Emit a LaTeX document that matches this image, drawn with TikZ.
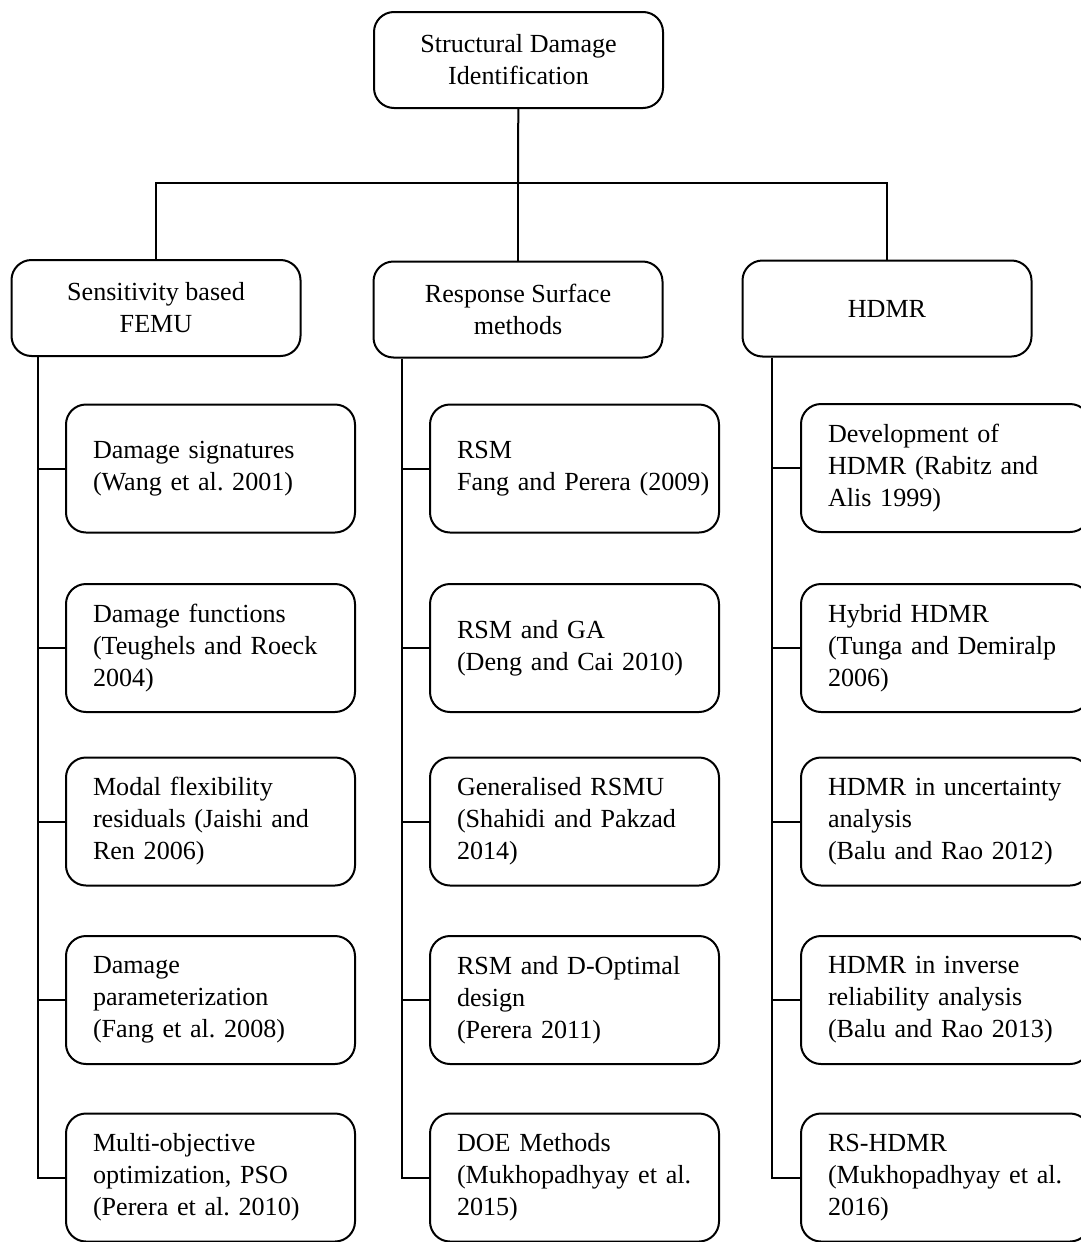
\documentclass[tikz,border=0pt]{standalone}
\usepackage{fontspec}
\setmainfont{Liberation Serif}
\usepackage{tikz}
\usetikzlibrary{positioning}

\begin{document}
\begin{tikzpicture}[x=1pt, y=-1pt,
          every node/.style={font=\fontsize{26.1}{32}\selectfont},
          headbox/.style={draw, line width=2pt, rounded corners=20pt, minimum width=289pt, minimum height=96pt, align=center, inner sep=0pt},
          leafbox/.style={draw, line width=2pt, rounded corners=20pt, text width=263pt, inner xsep=13pt, minimum height=128pt, align=left,
              execute at begin node={\frenchspacing\hyphenpenalty=10000\leftskip=14pt}},
          link/.style={line width=2pt}
      ]
        \useasboundingbox (0,0) rectangle (1080,1242);
        % top level
        \node[headbox] (sdi) at (518.5,60) {Structural Damage\\Identification};
        \node[headbox] (femu) at (156,308) {Sensitivity based\\FEMU};
        \node[headbox] (rsm) at (518,309.5) {Response Surface\\methods};
        \node[headbox] (hdmr) at (887,308.5) {HDMR};
        \coordinate (bus) at (518,183);
        \draw[link] (sdi) -- (bus);
        \draw[link] (femu.north) |- (bus) -| (hdmr.north);
        \draw[link] (bus) -- (rsm.north);

        % sensitivity based FEMU
        \node[leafbox] (f1) at (210.5,468.5) {Damage signatures\\(Wang et al. 2001)};
        \node[leafbox] (f2) at (210.5,648) {Damage functions\\(Teughels and Roeck\\2004)};
        \node[leafbox] (f3) at (210.5,821.5) {Modal flexibility\\residuals (Jaishi and\\Ren 2006)};
        \node[leafbox] (f4) at (210.5,1000) {Damage\\parameterization\\(Fang et al. 2008)};
        \node[leafbox] (f5) at (210.5,1177.5) {Multi-objective\\optimization, PSO\\(Perera et al. 2010)};

        % response surface methods
        \node[leafbox] (r1) at (574.5,468.5) {RSM\\\mbox{Fang and Perera (2009)}};
        \node[leafbox] (r2) at (574.5,648) {RSM and GA\\(Deng and Cai 2010)};
        \node[leafbox] (r3) at (574.5,821.5) {Generalised RSMU\\(Shahidi and Pakzad\\2014)};
        \node[leafbox] (r4) at (574.5,1000) {RSM and D-Optimal\\design\\(Perera 2011)};
        \node[leafbox] (r5) at (574.5,1177.5) {DOE Methods\\(Mukhopadhyay et al.\\2015)};

        % HDMR
        \node[leafbox] (h1) at (945.5,468) {Development of\\HDMR (Rabitz and\\Alis 1999)};
        \node[leafbox] (h2) at (945.5,648) {Hybrid HDMR\\(Tunga and Demiralp\\2006)};
        \node[leafbox] (h3) at (945.5,821.5) {HDMR in uncertainty\\analysis\\(Balu and Rao 2012)};
        \node[leafbox] (h4) at (945.5,1000) {HDMR in inverse\\reliability analysis\\(Balu and Rao 2013)};
        \node[leafbox] (h5) at (945.5,1177.5) {RS-HDMR\\(Mukhopadhyay et al.\\2016)};

        % trunks and branches
        \coordinate (ftrunk) at ([xshift=-118pt]femu.south);
        \coordinate (rtrunk) at ([xshift=-116pt]rsm.south);
        \coordinate (htrunk) at ([xshift=-115pt]hdmr.south);
        \draw[link] (ftrunk) |- (f5.west);
        \draw[link] (rtrunk) |- (r5.west);
        \draw[link] (htrunk) |- (h5.west);
        \foreach \i in {1,...,4} {
          \draw[link] (f\i.west) -- (f\i.west -| ftrunk);
          \draw[link] (r\i.west) -- (r\i.west -| rtrunk);
          \draw[link] (h\i.west) -- (h\i.west -| htrunk);
        }
      \end{tikzpicture}
\end{document}
